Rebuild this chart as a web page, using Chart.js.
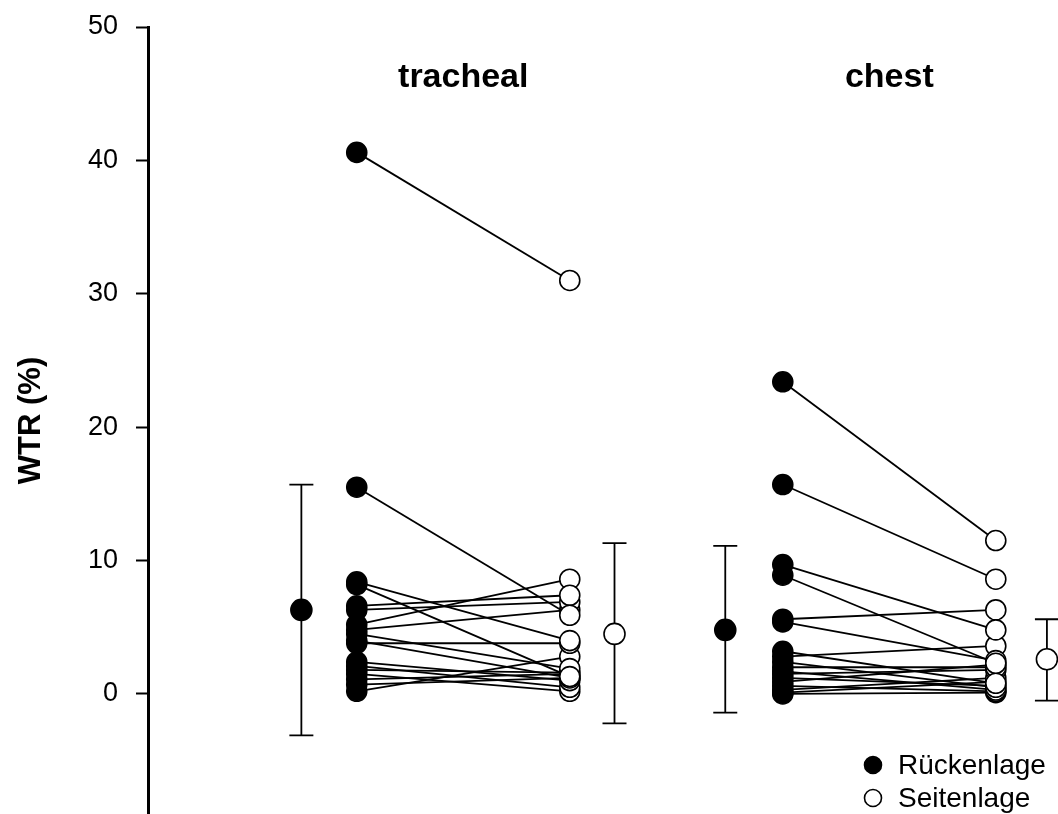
<!DOCTYPE html>
<html><head><meta charset="utf-8">
<script src="https://cdn.jsdelivr.net/npm/chart.js@4"></script>
<style>html,body{margin:0;padding:0;background:#fff}#wrap{width:1058px;height:814px}</style>
</head><body><div id="wrap"><canvas id="c" width="1058" height="814"></canvas></div>
<script>
// ---- data ----
const groups = ['tracheal', 'chest'];
const positionLabels = ['Rückenlage', 'Seitenlage'];
const yTicks = [0, 10, 20, 30, 40, 50];
const trachealRuecken = [40.6, 15.5, 8.4, 8.2, 6.6, 6.3, 5.2, 4.8, 4.5, 4.0, 3.8, 2.4, 2.1, 1.8, 1.5, 1.1, 0.7, 0.2];
const trachealSeiten  = [31.0, 5.9, 4.0, 1.3, 7.4, 6.9, 8.6, 6.3, 1.9, 1.2, 3.8, 1.0, 0.5, 1.6, 0.2, 1.5, 1.2, 2.8];
const chestRuecken = [23.4, 15.7, 9.7, 8.9, 5.6, 5.4, 3.2, 2.8, 2.4, 2.0, 1.7, 1.5, 1.2, 0.9, 0.6, 0.3, 0.1, 0.0];
const chestSeiten  = [11.5, 8.6, 4.8, 2.3, 6.3, 2.5, 0.8, 3.6, 0.5, 2.0, 0.3, 1.8, 0.6, 2.2, 0.2, 1.2, 0.9, 0.1];
const groupX = [[1, 2], [3, 4]];
const meanX = [0.74, 2.21, 2.73, 4.24];
const meanValues = [6.3, 4.5, 4.8, 2.6];
const sdUpper = [15.7, 11.3, 11.1, 5.6];
const sdLower = [-3.1, -2.2, -1.4, -0.5];
const meanFilled = [true, false, true, false];

const FONT = "'Liberation Sans', Arial, sans-serif";

const datasets = [];
const pairs = [[trachealRuecken, trachealSeiten, groupX[0]], [chestRuecken, chestSeiten, groupX[1]]];
pairs.forEach(([r, s, gx]) => {
  r.forEach((v, i) => {
    datasets.push({
      type: 'line',
      data: [{x: gx[0], y: v}, {x: gx[1], y: s[i]}],
      borderColor: '#000', borderWidth: 1.8,
      pointRadius: 10, pointBorderWidth: 1.6,
      pointBackgroundColor: ['#000', '#fff'], pointBorderColor: '#000',
      showLine: true
    });
  });
});
datasets.push({
  type: 'scatter',
  data: meanX.map((x, i) => ({x, y: meanValues[i]})),
  pointRadius: 10.5, pointBorderWidth: 1.6,
  pointBackgroundColor: meanFilled.map(f => f ? '#000' : '#fff'),
  pointBorderColor: '#000', showLine: false
});

const errorBars = {
  id: 'errorBars',
  beforeDatasetsDraw(chart) {
    const {ctx, scales: {x, y}} = chart;
    ctx.save();
    ctx.strokeStyle = '#000'; ctx.lineWidth = 1.8;
    meanX.forEach((mx, i) => {
      const px = x.getPixelForValue(mx);
      const top = y.getPixelForValue(sdUpper[i]);
      const bot = y.getPixelForValue(sdLower[i]);
      ctx.beginPath();
      ctx.moveTo(px, top); ctx.lineTo(px, bot);
      ctx.moveTo(px - 12, top); ctx.lineTo(px + 12, top);
      ctx.moveTo(px - 12, bot); ctx.lineTo(px + 12, bot);
      ctx.stroke();
    });
    ctx.restore();
  }
};

const labels = {
  id: 'labels',
  afterDraw(chart) {
    const {ctx, scales: {x, y}} = chart;
    ctx.save();
    ctx.fillStyle = '#000';
    ctx.textAlign = 'center'; ctx.textBaseline = 'middle';
    ctx.font = 'bold 34px ' + FONT;
    groups.forEach((g, i) => {
      const cx = x.getPixelForValue((groupX[i][0] + groupX[i][1]) / 2);
      ctx.fillText(g, cx, y.getPixelForValue(46.2));
    });
    // legend
    ctx.textAlign = 'left';
    ctx.font = '28px ' + FONT;
    const lx = 873, ly = [765, 798];
    positionLabels.forEach((t, i) => {
      ctx.beginPath();
      ctx.arc(lx, ly[i], 8.5, 0, Math.PI * 2);
      ctx.fillStyle = i === 0 ? '#000' : '#fff';
      ctx.fill();
      ctx.lineWidth = 1.6; ctx.strokeStyle = '#000'; ctx.stroke();
      ctx.fillStyle = '#000';
      ctx.fillText(t, lx + 25, ly[i] + 1);
    });
    ctx.restore();
  }
};

new Chart(document.getElementById('c'), {
  data: {datasets},
  options: {
    responsive: false, animation: false, devicePixelRatio: 1,
    layout: {autoPadding: false, padding: {top: 27, right: 0, bottom: 0, left: 0}},
    plugins: {legend: {display: false}, tooltip: {enabled: false}},
    scales: {
      x: {type: 'linear', min: 0.02, max: 4.292, display: false},
      y: {
        type: 'linear', min: -9, max: 50,
        afterBuildTicks: s => { s.ticks = yTicks.map(v => ({value: v})); },
        afterFit: s => { s.width = 148; s.paddingTop = 0; s.paddingBottom = 0; },
        border: {display: true, color: '#000', width: 3},
        grid: {drawOnChartArea: false, drawTicks: true, tickLength: 12, tickWidth: 2, tickColor: '#000'},
        ticks: {color: '#000', font: {family: FONT, size: 27}, padding: 18},
        title: {display: true, text: 'WTR (%)', color: '#000', font: {family: FONT, size: 31, weight: 'bold'}, padding: {top: 13, bottom: 0}}
      }
    }
  },
  plugins: [errorBars, labels]
});
</script>
</body></html>
